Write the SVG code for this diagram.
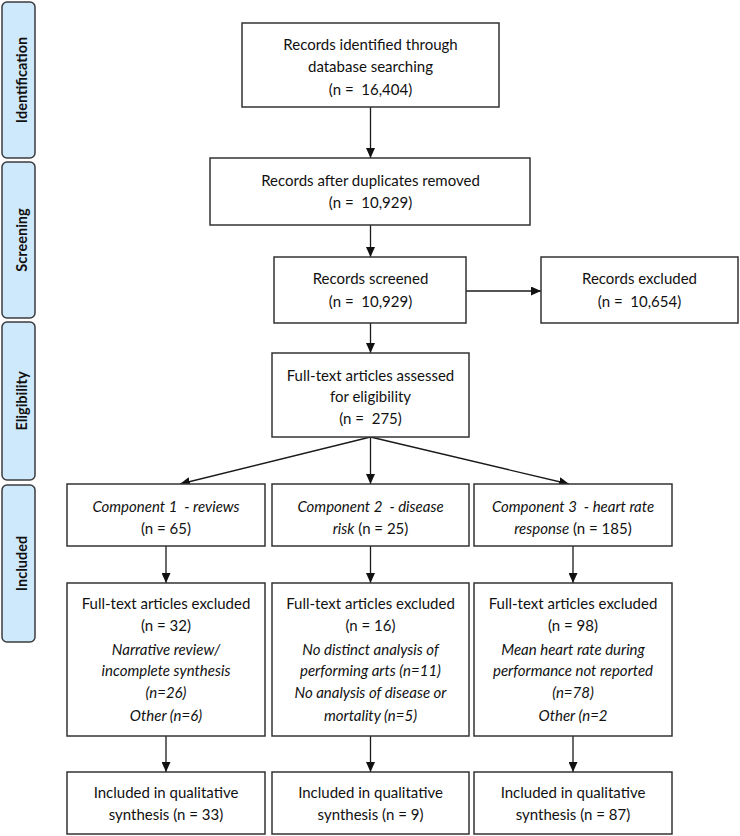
<svg xmlns="http://www.w3.org/2000/svg" width="740" height="836" viewBox="0 0 740 836" xml:space="preserve">
<style>
.bar{fill:#cfe9fc;stroke:#3c3c3c;stroke-width:1.5}
.bl{font-family:Lato,"Open Sans","DejaVu Sans",sans-serif;font-weight:bold;font-size:14.5px;fill:#111;text-anchor:middle}
.box{fill:#fff;stroke:#333;stroke-width:1.5}
.t{font-family:Lato,"Liberation Sans","DejaVu Sans",sans-serif;font-size:15px;fill:#111;text-anchor:middle;white-space:pre}
.i{font-style:italic}
.c{fill:none;stroke:#1a1a1a;stroke-width:1.3}
</style>
<defs>
<marker id="ah" markerUnits="userSpaceOnUse" markerWidth="11" markerHeight="9" refX="10" refY="4.5" orient="auto">
<path d="M0,0 L10,4.5 L0,9 z" fill="#111"/>
</marker>
</defs>
<rect width="740" height="836" fill="#fff"/>

<g id="phase-identification">
<rect class="bar" x="2" y="2" width="33" height="156" rx="5"/>
<text class="bl" transform="translate(26.5,80) rotate(-90)">Identification</text>
</g>
<g id="phase-screening">
<rect class="bar" x="2" y="162" width="33" height="156" rx="5"/>
<text class="bl" transform="translate(26.5,240) rotate(-90)">Screening</text>
</g>
<g id="phase-eligibility">
<rect class="bar" x="2" y="322" width="33" height="158" rx="5"/>
<text class="bl" transform="translate(26.5,401) rotate(-90)">Eligibility</text>
</g>
<g id="phase-included">
<rect class="bar" x="2" y="485" width="33" height="157" rx="5"/>
<text class="bl" transform="translate(26.5,563.5) rotate(-90)">Included</text>
</g>

<g id="connectors">
<line class="c" x1="370.5" y1="107" x2="370.5" y2="158" marker-end="url(#ah)"/>
<line class="c" x1="370.5" y1="225" x2="370.5" y2="257" marker-end="url(#ah)"/>
<line class="c" x1="466" y1="291" x2="541" y2="291" marker-end="url(#ah)"/>
<line class="c" x1="370.5" y1="323" x2="370.5" y2="353" marker-end="url(#ah)"/>
<line class="c" x1="370.5" y1="437" x2="180" y2="484" marker-end="url(#ah)"/>
<line class="c" x1="370.5" y1="437" x2="370.5" y2="484" marker-end="url(#ah)"/>
<line class="c" x1="370.5" y1="437" x2="569" y2="484" marker-end="url(#ah)"/>
<line class="c" x1="166" y1="546" x2="166" y2="583" marker-end="url(#ah)"/>
<line class="c" x1="370.5" y1="546" x2="370.5" y2="583" marker-end="url(#ah)"/>
<line class="c" x1="573" y1="546" x2="573" y2="583" marker-end="url(#ah)"/>
<line class="c" x1="166" y1="736" x2="166" y2="772" marker-end="url(#ah)"/>
<line class="c" x1="370.5" y1="736" x2="370.5" y2="772" marker-end="url(#ah)"/>
<line class="c" x1="573" y1="736" x2="573" y2="772" marker-end="url(#ah)"/>
</g>

<g id="identified">
<rect class="box" x="242" y="23" width="257" height="84"/>
<text class="t" x="370.5" y="50">Records identified through</text>
<text class="t" x="370.5" y="72">database searching</text>
<text class="t" x="370.5" y="95">(n =  16,404)</text>
</g>
<g id="deduplicated">
<rect class="box" x="210" y="158" width="320" height="67"/>
<text class="t" x="370.5" y="186">Records after duplicates removed</text>
<text class="t" x="370.5" y="208">(n =  10,929)</text>
</g>
<g id="screened">
<rect class="box" x="274" y="257" width="192" height="66"/>
<text class="t" x="370.5" y="284">Records screened</text>
<text class="t" x="370.5" y="307">(n =  10,929)</text>
</g>
<g id="excluded">
<rect class="box" x="541" y="257" width="197" height="66"/>
<text class="t" x="639.5" y="284">Records excluded</text>
<text class="t" x="639.5" y="307">(n =  10,654)</text>
</g>
<g id="assessed">
<rect class="box" x="272" y="353" width="197" height="84"/>
<text class="t" x="370.5" y="381">Full-text articles assessed</text>
<text class="t" x="370.5" y="402">for eligibility</text>
<text class="t" x="370.5" y="424">(n =  275)</text>
</g>

<g id="component1">
<rect class="box" x="67" y="484" width="198" height="62"/>
<text class="t i" x="166" y="512">Component 1  - reviews</text>
<text class="t" x="166" y="534">(n = 65)</text>
</g>
<g id="component2">
<rect class="box" x="272" y="484" width="197" height="62"/>
<text class="t i" x="370.5" y="512">Component 2  - disease</text>
<text class="t" x="370.5" y="534"><tspan class="i">risk</tspan> (n = 25)</text>
</g>
<g id="component3">
<rect class="box" x="474" y="484" width="198" height="62"/>
<text class="t i" x="573" y="512">Component 3  - heart rate</text>
<text class="t" x="573" y="534"><tspan class="i">response</tspan> (n = 185)</text>
</g>

<g id="fulltext-excluded1">
<rect class="box" x="67" y="583" width="198" height="153"/>
<text class="t" x="166" y="609">Full-text articles excluded</text>
<text class="t" x="166" y="631">(n = 32)</text>
<text class="t i" x="166" y="655">Narrative review/</text>
<text class="t i" x="166" y="676">incomplete synthesis</text>
<text class="t i" x="166" y="698">(n=26)</text>
<text class="t i" x="166" y="721">Other (n=6)</text>
</g>
<g id="fulltext-excluded2">
<rect class="box" x="272" y="583" width="197" height="153"/>
<text class="t" x="370.5" y="609">Full-text articles excluded</text>
<text class="t" x="370.5" y="631">(n = 16)</text>
<text class="t i" x="370.5" y="655">No distinct analysis of</text>
<text class="t i" x="370.5" y="676">performing arts (n=11)</text>
<text class="t i" x="370.5" y="698">No analysis of disease or</text>
<text class="t i" x="370.5" y="721">mortality (n=5)</text>
</g>
<g id="fulltext-excluded3">
<rect class="box" x="474" y="583" width="198" height="153"/>
<text class="t" x="573" y="609">Full-text articles excluded</text>
<text class="t" x="573" y="631">(n = 98)</text>
<text class="t i" x="573" y="655">Mean heart rate during</text>
<text class="t i" x="573" y="676">performance not reported</text>
<text class="t i" x="573" y="698">(n=78)</text>
<text class="t i" x="573" y="721">Other (n=2</text>
</g>

<g id="included1">
<rect class="box" x="67" y="772" width="198" height="62"/>
<text class="t" x="166" y="798">Included in qualitative</text>
<text class="t" x="166" y="820">synthesis (n = 33)</text>
</g>
<g id="included2">
<rect class="box" x="272" y="772" width="197" height="62"/>
<text class="t" x="370.5" y="798">Included in qualitative</text>
<text class="t" x="370.5" y="820">synthesis (n = 9)</text>
</g>
<g id="included3">
<rect class="box" x="474" y="772" width="198" height="62"/>
<text class="t" x="573" y="798">Included in qualitative</text>
<text class="t" x="573" y="820">synthesis (n = 87)</text>
</g>
</svg>
